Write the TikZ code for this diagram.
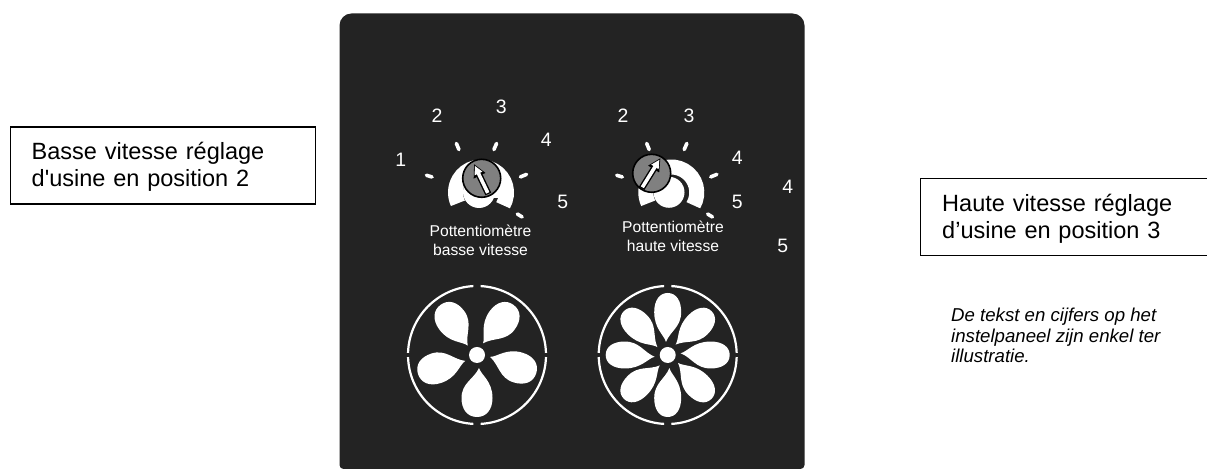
\documentclass[tikz,border=0pt]{standalone}
\usepackage{fontspec}
\setmainfont{Liberation Sans}
\usepackage{xcolor}
\usetikzlibrary{arrows.meta, positioning}
\definecolor{panelcolor}{HTML}{232323}
\definecolor{knobcolor}{HTML}{808080}

\begin{document}
\begin{tikzpicture}[
    x=1bp, y=1bp,
    infobox/.style={rectangle, draw=black, line width=1.4bp, fill=white, align=left, anchor=west, inner xsep=21.5bp, inner ysep=0pt, minimum height=77bp, font=\fontsize{23.6}{27.3}\selectfont, execute at begin node={\rule{0pt}{20.5bp}}},
    dialnum/.style={text=white, inner sep=0pt, font=\fontsize{19.5}{22}\selectfont},
    potlabel/.style={text=white, inner sep=0pt, align=center, font=\fontsize{15.7}{19}\selectfont},
    tick/.style={white, line width=3.6bp, line cap=round, shorten >=1bp, shorten <=1bp},
    knob/.style={circle, draw=black, line width=1.6bp, fill=knobcolor, minimum size=38bp, inner sep=0pt},
    fanring/.style={white, line width=2.2bp},
    hub/.style={circle, fill=white, minimum size=16bp, inner sep=0pt},
    ptrback/.style={black, line width=6.4bp, -{Triangle[length=13bp, width=12bp]}},
    ptrfront/.style={white, line width=3.6bp, shorten >=2bp, shorten <=1.2bp, -{Triangle[length=8.5bp, width=8bp]}},
    fanblade/.pic={
        \fill[white] (13,2) .. controls (20,4) and (26,15.5) .. (43,15.5) .. controls (55,15.5) and (62,9) .. (62,0)
            .. controls (62,-10) and (54,-15.5) .. (43,-15.5) .. controls (28,-15.5) and (24,-3) .. (13,2) -- cycle;
    }
]
\path[use as bounding box, clip] (0,0) rectangle (1207,469);
\fill[white] (0,0) rectangle (1207,469);

\node[infobox, text width=262bp] (lowbox) at (9.5,303.5) {Basse vitesse réglage\\d\textquotesingle usine en position 2};
\node[infobox, text width=280bp] (highbox) at (920,251.7) {Haute vitesse réglage\\d’usine en position 3};
\node[anchor=west, inner sep=0pt, align=left, font=\fontsize{18.7}{20.8}\selectfont\itshape] (note) at (951,133.5) {De tekst en cijfers op het\\instelpaneel zijn enkel ter\\illustratie.};

\fill[panelcolor, rounded corners=4bp] (339.5,0) -- (339.5,200) [rounded corners=12bp] -- (339.5,455.5) -- (804.5,455.5) -- (804.5,200) [rounded corners=4bp] -- (804.5,0) -- cycle;

\foreach \dx in {0,191} {
    \begin{scope}[xshift=\dx]
        \draw[white, line width=15bp] ([shift={(481,276.5)}]-30:25.5) arc[start angle=-30, end angle=205, radius=25.5];
        \draw[tick] (425.5,294) -- (433,291.7);
        \draw[tick] (456,326.5) -- (459.3,318.5);
        \draw[tick] (497,326.5) -- (493.5,318.5);
        \draw[tick] (527.5,295) -- (519.5,291.7);
        \draw[tick] (516.5,255.5) -- (523,251.5);
    \end{scope}
}
\fill[white] (479,277) circle[radius=16];
\fill[white] (488,271) rectangle (505,284);
\fill[white] (669,276.7) circle[radius=15.5];

\node[knob] (lowknob) at (481.7,290.7) {};
\node[knob] (highknob) at (651.7,295.7) {};
\coordinate (lowtail) at (488.3,275);
\coordinate (lowtip) at (474,305);
\coordinate (hightail) at (641.7,280.7);
\coordinate (hightip) at (660.5,311);
\draw[ptrback] (lowtail) -- (lowtip);
\draw[ptrfront] (lowtail) -- (lowtip);
\draw[ptrback] (hightail) -- (hightip);
\draw[ptrfront] (hightail) -- (hightip);

\node[dialnum] (low1) at (400.7,309) {1};
\node[dialnum] (low2) at (437,353.3) {2};
\node[dialnum] (low3) at (501.3,362.3) {3};
\node[dialnum] (low4) at (546.3,329) {4};
\node[dialnum] (low5) at (562.7,267.3) {5};
\node[dialnum] (high2) at (623,353.3) {2};
\node[dialnum] (high3) at (689,353.3) {3};
\node[dialnum] (high4) at (737.3,310.7) {4};
\node[dialnum] (high5) at (737.3,267) {5};
\node[dialnum] (extra4) at (787.7,281.7) {4};
\node[dialnum] (extra5) at (782.7,223.3) {5};

\node[potlabel] (lowlabel) at (480.5,229) {Pottentiomètre\\basse vitesse};
\node[potlabel] (highlabel) at (673,233) {Pottentiomètre\\haute vitesse};

\coordinate (lowfan) at (477,114);
\coordinate (highfan) at (667.7,114);
\foreach \a in {126,54,-17,-90,198}
    \pic[rotate=\a] at (lowfan) {fanblade};
\foreach \a in {0,45,...,315}
    \pic[rotate=\a, yscale=.87] at (highfan) {fanblade};
\node[hub] (lowhub) at (lowfan) {};
\node[hub] (highhub) at (highfan) {};
\foreach \c in {lowfan,highfan} {
    \draw[fanring] ([shift={(\c)}]1.7:69) arc[start angle=1.7, end angle=87, radius=69];
    \draw[fanring] ([shift={(\c)}]93:69) arc[start angle=93, end angle=178.3, radius=69];
    \draw[fanring] ([shift={(\c)}]181.7:69) arc[start angle=181.7, end angle=267, radius=69];
    \draw[fanring] ([shift={(\c)}]273:69) arc[start angle=273, end angle=358.3, radius=69];
}
\end{tikzpicture}
\end{document}
